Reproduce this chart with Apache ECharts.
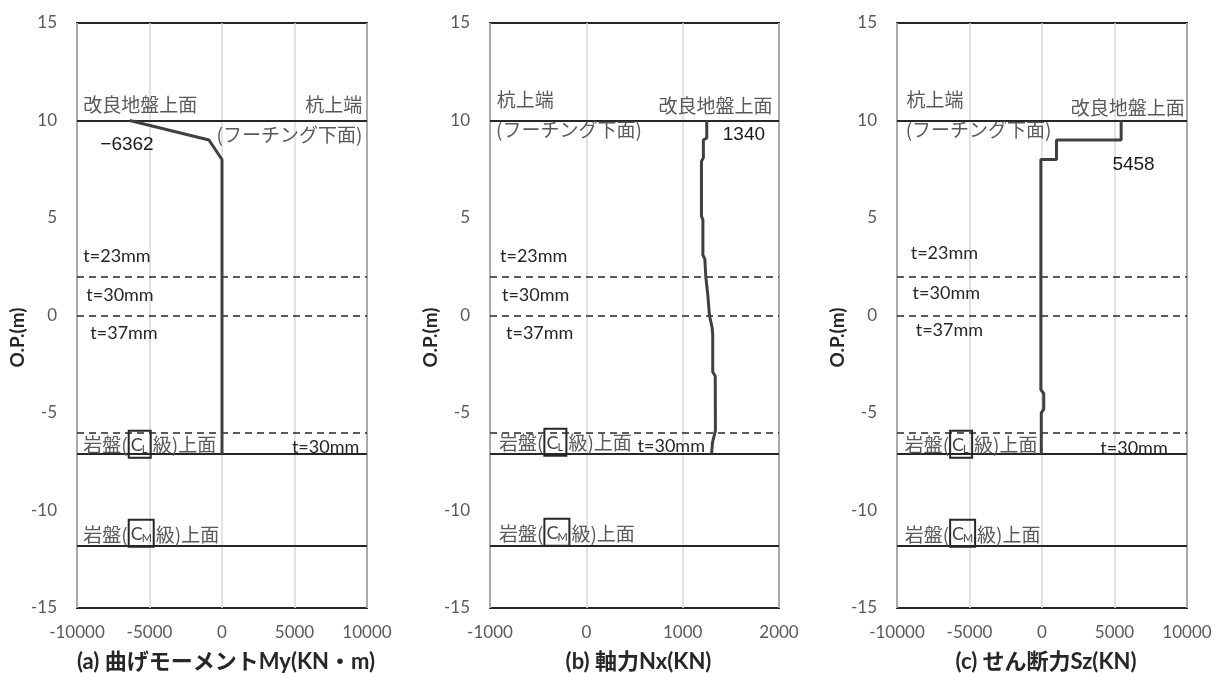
<!DOCTYPE html>
<html><head><meta charset="utf-8">
<script src="https://cdn.jsdelivr.net/npm/echarts@6/dist/echarts.min.js"></script>
<style>html,body{margin:0;padding:0;background:#fff}#c{width:1217px;height:673px}</style>
</head><body><div id="c"></div>
<script>
// ---------------- data ----------------
const momentDepth = [10, 9, 8, -7.1];
const momentValue = [-6362, -900, 0, 0];

const axialDepth = [10, 9.1, 9.0, 8.1, 7.9, 5.1, 4.9, 3.1, 2.9, 2.0, 1.0, 0, -0.6, -1.0, -2.9, -3.1, -5.9, -6.5, -7.1];
const axialValue = [1250, 1250, 1215, 1215, 1195, 1195, 1210, 1210, 1230, 1240, 1262, 1278, 1305, 1312, 1312, 1338, 1340, 1310, 1300];

const shearDepth = [10, 9.0, 9.0, 8.0, 8.0, -3.8, -4.0, -4.8, -5.0, -7.1];
const shearValue = [5458, 5458, 1000, 1000, -80, -80, 120, 120, -50, -50];

const solidLevels = [10, -7.1, -11.8];
const dashedLevels = [2, 0, -6];

const xMin = [-10000, -1000, -10000];
const xMax = [10000, 2000, 10000];
const xStep = [5000, 1000, 5000];
const yMin = -15, yMax = 15, yStep = 5;

const panelTitles = ['(a) 曲げモーメントMy(KN・m)', '(b) 軸力Nx(KN)', '(c) せん断力Sz(KN)'];
const yTitle = 'O.P.(m)';
const peakLabels = ['−6362', '1340', '5458'];
const thickLabels = ['t=23mm', 't=30mm', 't=37mm', 't=30mm'];
const levelTexts = ['改良地盤上面', '杭上端', '(フーチング下面)'];
const rockTexts = ['岩盤(', 'C', '級)上面'];
const rockSubs = ['L', 'M'];

// ---------------- layout ----------------
const grids = [
  {left: 77, top: 23, width: 290, height: 585},
  {left: 490, top: 23, width: 289, height: 585},
  {left: 897, top: 23, width: 290, height: 585}
];
const CJK = '"Noto Sans CJK JP"';
const LAT = 'Lato, "Noto Sans CJK JP"';
const NUM = '"Liberation Sans", Arial';

const seriesData = [
  momentValue.map((v, i) => [v, momentDepth[i]]),
  axialValue.map((v, i) => [v, axialDepth[i]]),
  shearValue.map((v, i) => [v, shearDepth[i]])
];

const chart = echarts.init(document.getElementById('c'), null, {renderer: 'canvas'});

const option = {
  animation: false,
  backgroundColor: '#fff',
  grid: grids.map(g => Object.assign({show: true, borderColor: '#262626', borderWidth: 2, backgroundColor: 'transparent',
    containLabel: false, outerBoundsMode: 'none'}, g)),
  xAxis: grids.map((g, i) => ({
    type: 'value', gridIndex: i, min: xMin[i], max: xMax[i], interval: xStep[i],
    axisLine: {show: false}, axisTick: {show: false},
    splitLine: {show: true, lineStyle: {color: '#d9d9d9', width: 1.5}},
    axisLabel: {fontSize: 17, color: '#595959', fontFamily: LAT, margin: 16, showMinLabel: true, showMaxLabel: true,
      formatter: v => String(v)},
    name: panelTitles[i], nameLocation: 'middle', nameGap: 43,
    nameTextStyle: {fontSize: 22, fontWeight: 'bold', color: '#262626', fontFamily: LAT, padding: [0, 0, 0, 8]}
  })),
  yAxis: grids.map((g, i) => ({
    type: 'value', gridIndex: i, min: yMin, max: yMax, interval: yStep,
    axisLine: {show: false}, axisTick: {show: false}, splitLine: {show: false},
    axisLabel: {fontSize: 17, color: '#595959', fontFamily: LAT, margin: 20, formatter: v => String(v)},
    name: yTitle, nameLocation: 'middle', nameGap: 49,
    nameTextStyle: {fontSize: 19, fontWeight: 'bold', color: '#262626', fontFamily: LAT, padding: [0, 44, 0, 0]}
  })),
  series: seriesData.map((d, i) => ({
    type: 'line', xAxisIndex: i, yAxisIndex: i, data: d, showSymbol: false, symbol: 'none',
    lineStyle: {color: '#404040', width: 3}, z: 5,
    markLine: {
      silent: true, symbol: ['none', 'none'], label: {show: false}, z: 3,
      data: solidLevels.map(l => ({yAxis: l, lineStyle: {type: 'solid', color: '#262626', width: 2}}))
        .concat(dashedLevels.map(l => ({yAxis: l, lineStyle: {type: [7, 5], color: '#262626', width: 1.5}})))
    }
  }))
};
chart.setOption(option);

// annotation layout (data coordinates of each text anchor)
const notes = [
  [ // panel a
    {t: levelTexts[0], x: -9566, y: 10.8, a: 'left', k: 'cjk'},
    {t: levelTexts[1], x: 9676, y: 10.8, a: 'right', k: 'cjk'},
    {t: levelTexts[2], x: 9676, y: 9.27, a: 'right', k: 'cjk'},
    {t: peakLabels[0], x: -8393, y: 8.75, a: 'left', k: 'num'},
    {t: thickLabels[0], x: -9566, y: 3.05, a: 'left', k: 'lat'},
    {t: thickLabels[1], x: -9359, y: 1.05, a: 'left', k: 'lat'},
    {t: thickLabels[2], x: -9083, y: -0.9, a: 'left', k: 'lat'},
    {t: thickLabels[3], x: 9469, y: -6.75, a: 'right', k: 'lat'},
    {rock: 0, x: -9566, y: -6.65},
    {rock: 1, x: -9566, y: -11.22}
  ],
  [ // panel b
    {t: levelTexts[1], x: -930, y: 11.06, a: 'left', k: 'cjk'},
    {t: levelTexts[0], x: 1932, y: 10.75, a: 'right', k: 'cjk'},
    {t: levelTexts[2], x: -938, y: 9.52, a: 'left', k: 'cjk'},
    {t: peakLabels[1], x: 1416, y: 9.27, a: 'left', k: 'num'},
    {t: thickLabels[0], x: -896, y: 3.05, a: 'left', k: 'lat'},
    {t: thickLabels[1], x: -876, y: 1.05, a: 'left', k: 'lat'},
    {t: thickLabels[2], x: -834, y: -0.9, a: 'left', k: 'lat'},
    {t: thickLabels[3], x: 532, y: -6.7, a: 'left', k: 'lat'},
    {rock: 0, x: -907, y: -6.55},
    {rock: 1, x: -907, y: -11.17}
  ],
  [ // panel c
    {t: levelTexts[1], x: -9352, y: 11.06, a: 'left', k: 'cjk'},
    {t: levelTexts[0], x: 9841, y: 10.65, a: 'right', k: 'cjk'},
    {t: levelTexts[2], x: -9400, y: 9.52, a: 'left', k: 'cjk'},
    {t: peakLabels[2], x: 4855, y: 7.73, a: 'left', k: 'num'},
    {t: thickLabels[0], x: -9055, y: 3.2, a: 'left', k: 'lat'},
    {t: thickLabels[1], x: -8924, y: 1.16, a: 'left', k: 'lat'},
    {t: thickLabels[2], x: -8710, y: -0.74, a: 'left', k: 'lat'},
    {t: thickLabels[3], x: 8669, y: -6.8, a: 'right', k: 'lat'},
    {rock: 0, x: -9469, y: -6.65},
    {rock: 1, x: -9469, y: -11.22}
  ]
];

const styles = {
  cjk: {fontSize: 19, fontFamily: CJK, fill: '#595959'},
  lat: {fontSize: 18, fontFamily: LAT, fill: '#262626'},
  num: {fontSize: 19, fontFamily: NUM, fill: '#1a1a1a'}
};
const mctx = document.createElement('canvas').getContext('2d');
function measure(text, size, family) { mctx.font = size + 'px ' + family; return mctx.measureText(text).width; }

const graphics = [];
notes.forEach((list, gi) => {
  list.forEach(n => {
    const p = chart.convertToPixel({gridIndex: gi}, [n.x, n.y]);
    if (n.rock === undefined) {
      const s = styles[n.k];
      graphics.push({type: 'text', x: p[0], y: p[1], z: 10, silent: true,
        style: {text: n.t, fontSize: s.fontSize, fontFamily: s.fontFamily, fill: s.fill, align: n.a, verticalAlign: 'middle'}});
    } else {
      const w1 = measure(rockTexts[0], 19, CJK);
      const bx = p[0] + w1 + 1;
      const bw = n.rock === 0 ? 22 : 25;
      const bh = 27;
      graphics.push({type: 'text', x: p[0], y: p[1], z: 10, silent: true,
        style: {text: rockTexts[0], fontSize: 19, fontFamily: CJK, fill: '#595959', align: 'left', verticalAlign: 'middle'}});
      graphics.push({type: 'rect', z: 10, silent: true, shape: {x: bx, y: p[1] - bh / 2 - 1, width: bw, height: bh},
        style: {fill: 'none', stroke: '#262626', lineWidth: 2}});
      graphics.push({type: 'text', x: bx + 2, y: p[1], z: 10, silent: true,
        style: {text: rockTexts[1], fontSize: 18, fontFamily: LAT, fill: '#404040', align: 'left', verticalAlign: 'middle'}});
      graphics.push({type: 'text', x: bx + 13, y: p[1] + 10, z: 10, silent: true,
        style: {text: rockSubs[n.rock], fontSize: 11, fontFamily: LAT, fill: '#404040', align: 'left', verticalAlign: 'bottom'}});
      graphics.push({type: 'text', x: bx + bw + 2, y: p[1], z: 10, silent: true,
        style: {text: rockTexts[2], fontSize: 19, fontFamily: CJK, fill: '#595959', align: 'left', verticalAlign: 'middle'}});
    }
  });
});
chart.setOption({graphic: graphics});
</script>
</body></html>
